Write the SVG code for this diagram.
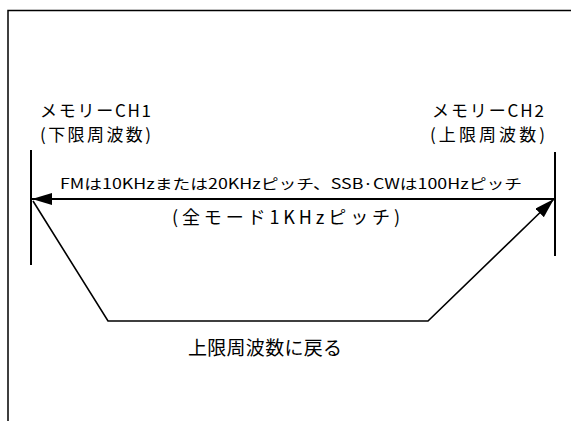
<svg xmlns="http://www.w3.org/2000/svg" width="571" height="421" viewBox="0 0 571 421">
<defs>
<style>
.t{font-family:"Noto Sans CJK JP","Noto Sans",sans-serif;fill:#000}
.ln{stroke:#000;fill:none;stroke-linecap:butt}
</style>
<marker id="ah2" viewBox="0 0 20 12" refX="20" refY="6" markerWidth="20" markerHeight="12" markerUnits="userSpaceOnUse" orient="auto">
<path d="M0,0 L20,6 L0,12 z" fill="#000"/>
</marker>
</defs>
<rect width="571" height="421" fill="#fff"/>
<g id="frame">
<path class="ln" d="M8,421 V10.5 H571" stroke-width="1.5"/>
</g>
<g id="ch1">
<line class="ln" x1="31" y1="150" x2="31" y2="265" stroke-width="2"/>
<text class="t" x="40" y="117" font-size="17" textLength="111" lengthAdjust="spacing">メモリーCH1</text>
<text class="t" x="40" y="141" font-size="17" textLength="111" lengthAdjust="spacing">(下限周波数)</text>
</g>
<g id="ch2">
<line class="ln" x1="555" y1="152" x2="555" y2="256" stroke-width="2"/>
<text class="t" x="432" y="117" font-size="17" textLength="112" lengthAdjust="spacing">メモリーCH2</text>
<text class="t" x="430" y="141" font-size="17" textLength="115" lengthAdjust="spacing">(上限周波数)</text>
</g>
<g id="connectors">
<line class="ln" x1="555" y1="199" x2="32" y2="199" stroke-width="2" marker-end="url(#ah2)"/>
<polyline class="ln" points="33,201 108,321 428,321 554,199" stroke-width="1.6" marker-end="url(#ah2)"/>
</g>
<g id="labels">
<text class="t" x="60" y="189" font-size="14" textLength="462" lengthAdjust="spacingAndGlyphs">FMは10KHzまたは20KHzピッチ、SSB·CWは100Hzピッチ</text>
<text class="t" x="172" y="224" font-size="18" textLength="228" lengthAdjust="spacing">(全モード1KHzピッチ)</text>
<text class="t" x="188" y="355" font-size="19" textLength="154" lengthAdjust="spacing">上限周波数に戻る</text>
</g>
</svg>
